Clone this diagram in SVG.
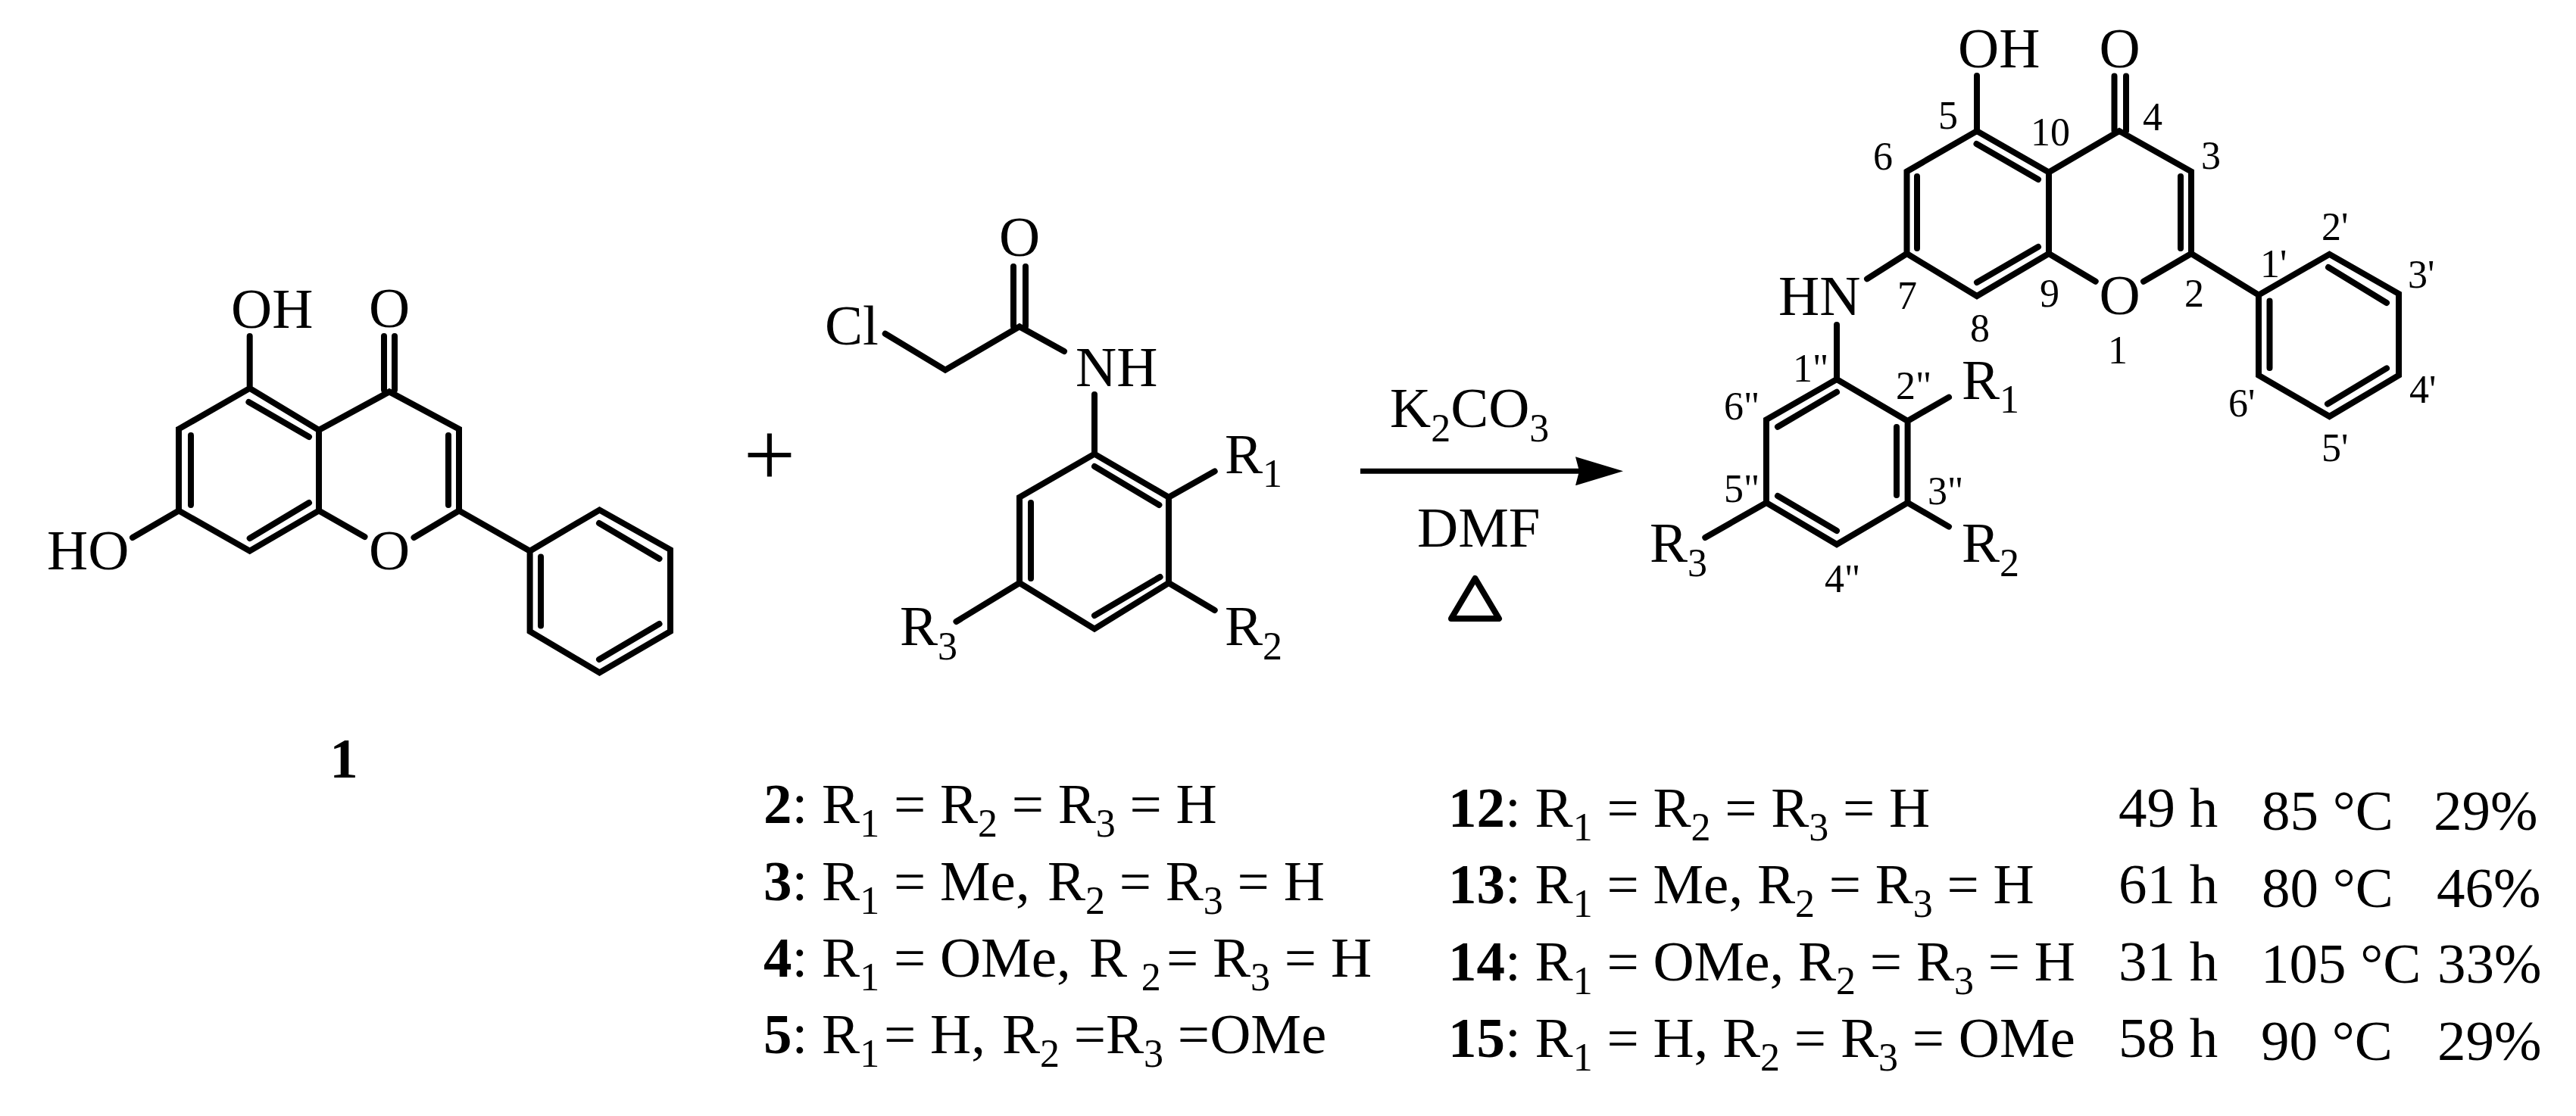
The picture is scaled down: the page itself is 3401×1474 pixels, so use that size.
<svg xmlns="http://www.w3.org/2000/svg" width="3401" height="1474" viewBox="0 0 3401 1474">
<style>
text{font-family:"Liberation Serif","Times New Roman",serif;font-size:75px;fill:#000}
.n{font-size:52px}
.b{font-weight:bold}
.s{font-size:52px}
.m{text-anchor:middle}
.bond{fill:none;stroke:#000;stroke-width:8;stroke-linecap:round;stroke-linejoin:miter}
.arrow{fill:none;stroke:#000;stroke-width:7;stroke-linecap:butt}
.tri{fill:none;stroke:#000;stroke-width:8;stroke-linejoin:round}
</style>
<defs>
<marker id="head" markerUnits="userSpaceOnUse" viewBox="0 0 63 38" refX="5" refY="19" markerWidth="63" markerHeight="38" orient="auto"><polygon points="0,0 63,19 0,38 5,19" fill="#000"/></marker>
</defs>
<rect width="3401" height="1474" fill="#fff"/>

<g id="compound-1">
<path class="bond" d="M236,566.6L329.7,512.8L421,568L421,674.5L329.7,727.7L236,674.5Z M421,568L514,517.4L606,566.6L606,674.5L699.6,727.7 M421,674.5L481.5,709 M606,674.5L546.5,710 M329.7,512.8V444 M236,674.5L175,710 M507,444V515 M521,444V515 M328.4,531L408,577 M252,575V667 M329.7,711L408,664 M592,575V667 M699.6,727.7L791.5,673.5L885,726V834L791.5,888.4L699.6,834Z M791,691L870.5,738 M714,735.5V826.4 M870.5,824L791,871"/>
<text x="305" y="433">OH</text>
<text x="514" y="432" class="m">O</text>
<text x="62" y="752">HO</text>
<text x="514" y="752" class="m">O</text>
<text x="454" y="1027" class="m b">1</text>
</g>

<g id="plus"><text x="1016" y="642" class="m" style="font-size:122px">+</text></g>

<g id="compound-2">
<path class="bond" d="M1168.7,440.8L1248,488.6L1346,431.4L1405,464 M1338,352V431 M1354,352V431 M1445,521V599.6 M1445,599.6L1543,656.7V770L1445,830.6L1346,770V656.7Z M1445,616L1530.4,667 M1361,664V764 M1531.6,762L1445,813 M1543,656.7L1603.7,622.4 M1543,770L1603.7,806 M1346,770L1262.5,821"/>
<text x="1089" y="455">Cl</text>
<text x="1346" y="338" class="m">O</text>
<text x="1420" y="510">NH</text>
<text x="1617" y="625">R<tspan class="s" dy="18">1</tspan></text>
<text x="1617" y="852">R<tspan class="s" dy="19">2</tspan></text>
<text x="1188" y="852">R<tspan class="s" dy="19">3</tspan></text>
</g>

<g id="connectors">
<line class="arrow" x1="1796" y1="622.3" x2="2085" y2="622.3" marker-end="url(#head)"/>
</g>

<g id="conditions">
<text x="1835" y="564">K<tspan class="s" dy="19">2</tspan><tspan dy="-19">CO</tspan><tspan class="s" dy="19">3</tspan></text>
<text x="1871" y="722">DMF</text>
<path class="tri" d="M1947.5,764L1979,817H1916Z"/>
</g>

<g id="product">
<path class="bond" d="M2517.5,226.5L2610,173L2705,227.5V335L2610,391L2517.5,335Z M2705,227.5L2798,173L2893,226.5V335L2982,389.6 M2705,335L2766.7,371.7 M2893,335L2830,371.7 M2610,173V100 M2791.5,100.5V173 M2807,100.5V173 M2609.5,190L2691,237 M2531,233V328 M2610,373L2691,326 M2879,233V328 M2982,389.6L3075.5,335.8L3167,388V495.8L3075.5,550L2982,495.8Z M2996.5,397.5V486 M3074,353L3151,400 M3151,486.4L3073,533.5 M2517.5,335L2465,368.3 M2425,428.9V501 M2425,501L2518.6,556V664L2425,719L2332,664V554.4Z M2425,517.8L2347,563.8 M2504,564V654 M2425,701L2347,655 M2518.6,556L2573,524.6 M2518.6,664L2573,695.6 M2332,664L2251.3,710"/>
<text x="2585" y="89">OH</text>
<text x="2798.5" y="89" class="m">O</text>
<text x="2798.5" y="415" class="m">O</text>
<text x="2348" y="416">HN</text>
<text x="2590" y="527">R<tspan class="s" dy="18">1</tspan></text>
<text x="2590" y="742">R<tspan class="s" dy="19">2</tspan></text>
<text x="2178" y="742">R<tspan class="s" dy="19">3</tspan></text>
<text class="n" x="2559" y="170">5</text>
<text class="n" x="2681" y="191.5">10</text>
<text class="n" x="2829" y="172">4</text>
<text class="n" x="2473" y="224">6</text>
<text class="n" x="2906" y="222.5">3</text>
<text class="n" x="2505" y="408">7</text>
<text class="n" x="2601" y="450.5">8</text>
<text class="n" x="2693" y="405">9</text>
<text class="n" x="2884" y="405">2</text>
<text class="n m" x="2796" y="480">1</text>
<text class="n" x="2984" y="366">1'</text>
<text class="n" x="3065" y="317">2'</text>
<text class="n" x="3179" y="380">3'</text>
<text class="n" x="3181" y="532">4'</text>
<text class="n" x="3065" y="609">5'</text>
<text class="n" x="2942" y="550">6'</text>
<text class="n" x="2367" y="504">1"</text>
<text class="n" x="2276" y="554">6"</text>
<text class="n" x="2503" y="527">2"</text>
<text class="n" x="2545" y="666">3"</text>
<text class="n" x="2276" y="663">5"</text>
<text class="n" x="2409" y="782">4"</text>
</g>

<g id="list-reactants">
<text x="1008" y="1087"><tspan class="b">2</tspan>: R<tspan class="s" dy="18">1</tspan><tspan dy="-18"> = R</tspan><tspan class="s" dy="18">2</tspan><tspan dy="-18"> = R</tspan><tspan class="s" dy="18">3</tspan><tspan dy="-18"> = H</tspan></text>
<text x="1008" y="1188.5"><tspan class="b">3</tspan>: R<tspan class="s" dy="18">1</tspan><tspan dy="-18"> = Me, </tspan><tspan x="1383">R</tspan><tspan class="s" dy="18">2</tspan><tspan dy="-18"> = R</tspan><tspan class="s" dy="18">3</tspan><tspan dy="-18"> = H</tspan></text>
<text x="1008" y="1290"><tspan class="b">4</tspan>: R<tspan class="s" dy="18">1</tspan><tspan dy="-18"> = OMe, </tspan><tspan x="1438">R </tspan><tspan class="s" dy="18">2</tspan><tspan dy="-18" x="1540">= R</tspan><tspan class="s" dy="18">3</tspan><tspan dy="-18"> = H</tspan></text>
<text x="1008" y="1391"><tspan class="b">5</tspan>: R<tspan class="s" dy="18">1</tspan><tspan dy="-18" x="1167">= H, </tspan><tspan x="1323">R</tspan><tspan class="s" dy="18">2</tspan><tspan dy="-18"> =R</tspan><tspan class="s" dy="18">3</tspan><tspan dy="-18"> =OMe</tspan></text>
</g>

<g id="list-products">
<text x="1912" y="1092"><tspan class="b">12</tspan>: R<tspan class="s" dy="18">1</tspan><tspan dy="-18"> = R</tspan><tspan class="s" dy="18">2</tspan><tspan dy="-18"> = R</tspan><tspan class="s" dy="18">3</tspan><tspan dy="-18"> = H</tspan></text>
<text x="1912" y="1193"><tspan class="b">13</tspan>: R<tspan class="s" dy="18">1</tspan><tspan dy="-18"> = Me, R</tspan><tspan class="s" dy="18">2</tspan><tspan dy="-18"> = R</tspan><tspan class="s" dy="18">3</tspan><tspan dy="-18"> = H</tspan></text>
<text x="1912" y="1295"><tspan class="b">14</tspan>: R<tspan class="s" dy="18">1</tspan><tspan dy="-18"> = OMe, R</tspan><tspan class="s" dy="18">2</tspan><tspan dy="-18"> = R</tspan><tspan class="s" dy="18">3</tspan><tspan dy="-18"> = H</tspan></text>
<text x="1912" y="1396"><tspan class="b">15</tspan>: R<tspan class="s" dy="18">1</tspan><tspan dy="-18"> = H, R</tspan><tspan class="s" dy="18">2</tspan><tspan dy="-18"> = R</tspan><tspan class="s" dy="18">3</tspan><tspan dy="-18"> = OMe</tspan></text>
<text x="2797" y="1092">49 h</text><text x="2986" y="1096">85 °C</text><text x="3213" y="1096">29%</text>
<text x="2797" y="1193">61 h</text><text x="2986" y="1198">80 °C</text><text x="3217" y="1198">46%</text>
<text x="2797" y="1295">31 h</text><text x="2985" y="1298">105 °C</text><text x="3218" y="1298">33%</text>
<text x="2797" y="1396">58 h</text><text x="2985" y="1400">90 °C</text><text x="3218" y="1400">29%</text>
</g>
</svg>
